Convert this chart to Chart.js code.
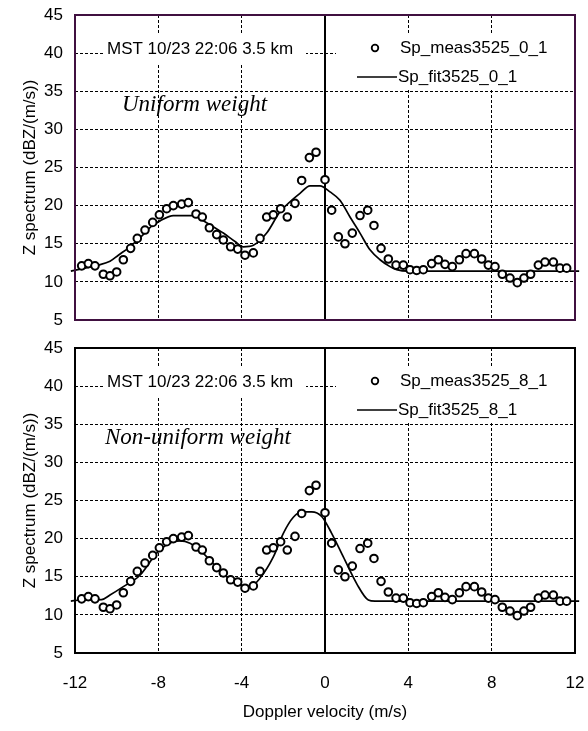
<!DOCTYPE html>
<html>
<head>
<meta charset="utf-8">
<script src="https://cdn.jsdelivr.net/npm/chart.js@4.4.0/dist/chart.umd.min.js"></script>
<style>
  body { margin: 0; background: #fff; }
  canvas { display: block; }
</style>
</head>
<body>
<canvas id="topChart" width="588" height="334"></canvas>
<canvas id="bottomChart" width="588" height="397"></canvas>
<script>
// Measured Doppler spectrum (same samples in both panels)
const velMeas = [-11.68, -11.36, -11.04, -10.64, -10.32, -10.0, -9.68, -9.33, -9.01, -8.64,
  -8.27, -7.95, -7.6, -7.28, -6.88, -6.56, -6.19, -5.89, -5.55, -5.2,
  -4.88, -4.53, -4.19, -3.84, -3.44, -3.12, -2.8, -2.48, -2.13, -1.81,
  -1.44, -1.12, -0.75, -0.43, 0.0, 0.32, 0.64, 0.96, 1.31, 1.68,
  2.05, 2.35, 2.69, 3.04, 3.41, 3.76, 4.08, 4.4, 4.72, 5.12,
  5.44, 5.76, 6.11, 6.45, 6.77, 7.17, 7.52, 7.84, 8.16, 8.51,
  8.88, 9.23, 9.55, 9.87, 10.24, 10.56, 10.96, 11.28, 11.6];
const zMeas = [12.1, 12.4, 12.1, 11.0, 10.8, 11.3, 12.9, 14.4, 15.7, 16.8,
  17.8, 18.8, 19.6, 20.0, 20.2, 20.4, 18.9, 18.5, 17.1, 16.2,
  15.5, 14.6, 14.3, 13.5, 13.8, 15.7, 18.5, 18.8, 19.6, 18.5,
  20.3, 23.3, 26.3, 27.0, 23.4, 19.4, 15.9, 15.0, 16.4, 18.7,
  19.4, 17.4, 14.4, 13.0, 12.2, 12.2, 11.6, 11.5, 11.6, 12.4,
  12.9, 12.3, 12.0, 12.9, 13.7, 13.7, 13.0, 12.2, 12.0, 11.0,
  10.5, 9.9, 10.5, 11.0, 12.2, 12.6, 12.6, 11.8, 11.8];

// Fit with uniform weight
const velFitUniform = [-12.2, -11.36, -10.88, -10.32, -9.92, -9.36, -8.8, -8.32, -7.92, -7.28,
  -6.32, -5.76, -5.52, -4.88, -4.32, -3.92, -3.44, -2.8, -2.16, -1.68,
  -1.2, -0.72, -0.24, 0.24, 0.72, 1.2, 1.68, 2.16, 2.64, 3.12,
  3.44, 4.0, 12.2];
const zFitUniform = [11.4, 11.9, 12.2, 12.7, 13.5, 14.6, 16.0, 17.3, 18.0, 18.7,
  18.7, 17.9, 17.5, 16.4, 15.3, 14.6, 14.8, 16.4, 19.2, 20.5,
  21.6, 22.6, 22.6, 21.8, 20.7, 18.5, 16.4, 14.2, 12.9, 12.0,
  11.6, 11.4, 11.4];

// Fit with non-uniform weight
const velFitWeighted = [-12.2, -11.76, -10.72, -10.32, -9.68, -8.88, -8.08, -7.6, -6.96, -6.48,
  -6.0, -5.36, -4.72, -4.08, -3.6, -3.12, -2.48, -2.0, -1.52, -1.12,
  -0.64, -0.16, 0.32, 0.88, 1.52, 2.08, 2.4, 12.2];
const zFitWeighted = [11.8, 11.95, 12.0, 12.6, 13.7, 15.2, 18.1, 19.2, 19.7, 19.4,
  18.5, 16.7, 15.0, 13.9, 13.7, 14.8, 17.6, 20.7, 22.8, 23.5,
  23.5, 22.9, 20.7, 17.6, 14.1, 11.95, 11.8, 11.8];

const velTicks = [-12, -8, -4, 0, 4, 8, 12];
const zTicks = [5, 10, 15, 20, 25, 30, 35, 40, 45];

const SANS = '"Liberation Sans", Arial, sans-serif';
const SERIF = '"Liberation Serif", "Times New Roman", serif';

const toPoints = (xs, ys) => xs.map((x, i) => ({ x: x, y: ys[i] }));

// white header/legend boxes, labels, zero line and frame
const panelDecor = {
  id: 'panelDecor',
  beforeDatasetsDraw(chart) {
    const { ctx, chartArea: a, scales } = chart;
    const x0 = scales.x.getPixelForValue(0);
    ctx.save();
    ctx.strokeStyle = '#000';
    ctx.lineWidth = 2;
    ctx.beginPath();
    ctx.moveTo(x0, a.top);
    ctx.lineTo(x0, a.bottom);
    ctx.stroke();
    ctx.restore();
  },
  afterDraw(chart, args, opts) {
    const { ctx, chartArea: a } = chart;
    ctx.save();
    ctx.fillStyle = '#fff';
    ctx.fillRect(a.left + 30, a.top + 18, 201, 31);
    ctx.fillRect(a.left + 261, a.top + 18, 237, 57);

    ctx.fillStyle = '#000';
    ctx.font = '17px ' + SANS;
    ctx.textBaseline = 'alphabetic';
    ctx.fillText('MST 10/23 22:06 3.5 km', a.left + 32, a.top + 39);

    ctx.textBaseline = 'middle';
    ctx.fillText(opts.measLabel, a.left + 325, a.top + 33);
    ctx.fillText(opts.fitLabel, a.left + 323, a.top + 62);

    ctx.strokeStyle = '#000';
    ctx.lineWidth = 1.8;
    ctx.beginPath();
    ctx.arc(a.left + 300, a.top + 33, 3.3, 0, Math.PI * 2);
    ctx.stroke();
    ctx.lineWidth = 1.6;
    ctx.beginPath();
    ctx.moveTo(a.left + 282, a.top + 62);
    ctx.lineTo(a.left + 322, a.top + 62);
    ctx.stroke();

    ctx.font = 'italic 23px ' + SERIF;
    ctx.fillText(opts.note, a.left + opts.noteX, a.top + 90);

    ctx.strokeStyle = opts.frameColor;
    ctx.lineWidth = 2;
    ctx.strokeRect(a.left, a.top, a.right - a.left, a.bottom - a.top);
    ctx.restore();
  }
};

function makePanel(id, fitVel, fitZ, decor, showXAxis) {
  const xMin = velTicks[0], xMax = velTicks[velTicks.length - 1];
  const yMin = zTicks[0], yMax = zTicks[zTicks.length - 1];
  const edgeX = v => v === xMin || v === xMax;
  const edgeY = v => v === yMin || v === yMax;

  return new Chart(document.getElementById(id), {
    type: 'scatter',
    data: {
      datasets: [{
        label: decor.measLabel,
        data: toPoints(velMeas, zMeas),
        order: 0,
        pointStyle: 'circle',
        pointRadius: 3.8,
        borderWidth: 2,
        borderColor: '#000',
        backgroundColor: '#fff'
      }, {
        label: decor.fitLabel,
        data: toPoints(fitVel, fitZ),
        order: 1,
        showLine: true,
        pointRadius: 0,
        borderColor: '#000',
        borderWidth: 1.7,
        cubicInterpolationMode: 'monotone',
        clip: false
      }]
    },
    options: {
      responsive: false,
      animation: false,
      events: [],
      layout: { padding: { left: 0, right: 13, top: showXAxis ? 14 : 15, bottom: 0 } },
      scales: {
        x: {
          type: 'linear',
          min: xMin,
          max: xMax,
          ticks: {
            display: showXAxis,
            stepSize: 4,
            color: '#000',
            padding: 20,
            font: { family: SANS, size: 17 }
          },
          grid: {
            drawTicks: false,
            lineWidth: 1,
            color: c => (edgeX(c.tick.value) || c.tick.value === 0) ? 'rgba(0,0,0,0)' : '#000'
          },
          border: { display: false, dash: [3, 2] },
          title: {
            display: showXAxis,
            text: 'Doppler velocity (m/s)',
            color: '#000',
            font: { family: SANS, size: 17 },
            padding: { top: 0, bottom: 8 }
          },
          afterFit: s => {
            s.height = showXAxis ? 78 : 14;
            s.paddingLeft = 0;
            s.paddingRight = 0;
          }
        },
        y: {
          min: yMin,
          max: yMax,
          ticks: {
            stepSize: 5,
            color: '#000',
            padding: 12,
            font: { family: SANS, size: 17 }
          },
          grid: {
            drawTicks: false,
            lineWidth: 1,
            color: c => edgeY(c.tick.value) ? 'rgba(0,0,0,0)' : '#000'
          },
          border: { display: false, dash: [3, 2] },
          title: {
            display: true,
            text: 'Z spectrum (dBZ/(m/s))',
            color: '#000',
            font: { family: SANS, size: 17 },
            padding: { top: 20, bottom: 0 }
          },
          afterFit: s => {
            s.width = 75;
            s.paddingTop = 0;
            s.paddingBottom = 0;
          }
        }
      },
      plugins: {
        legend: { display: false },
        tooltip: { enabled: false },
        panelDecor: decor
      }
    },
    plugins: [panelDecor]
  });
}

makePanel('topChart', velFitUniform, zFitUniform, {
  measLabel: 'Sp_meas3525_0_1',
  fitLabel: 'Sp_fit3525_0_1',
  note: 'Uniform weight',
  noteX: 47,
  frameColor: '#401040'
}, false);

makePanel('bottomChart', velFitWeighted, zFitWeighted, {
  measLabel: 'Sp_meas3525_8_1',
  fitLabel: 'Sp_fit3525_8_1',
  note: 'Non-uniform weight',
  noteX: 30,
  frameColor: '#000'
}, true);
</script>
</body>
</html>
